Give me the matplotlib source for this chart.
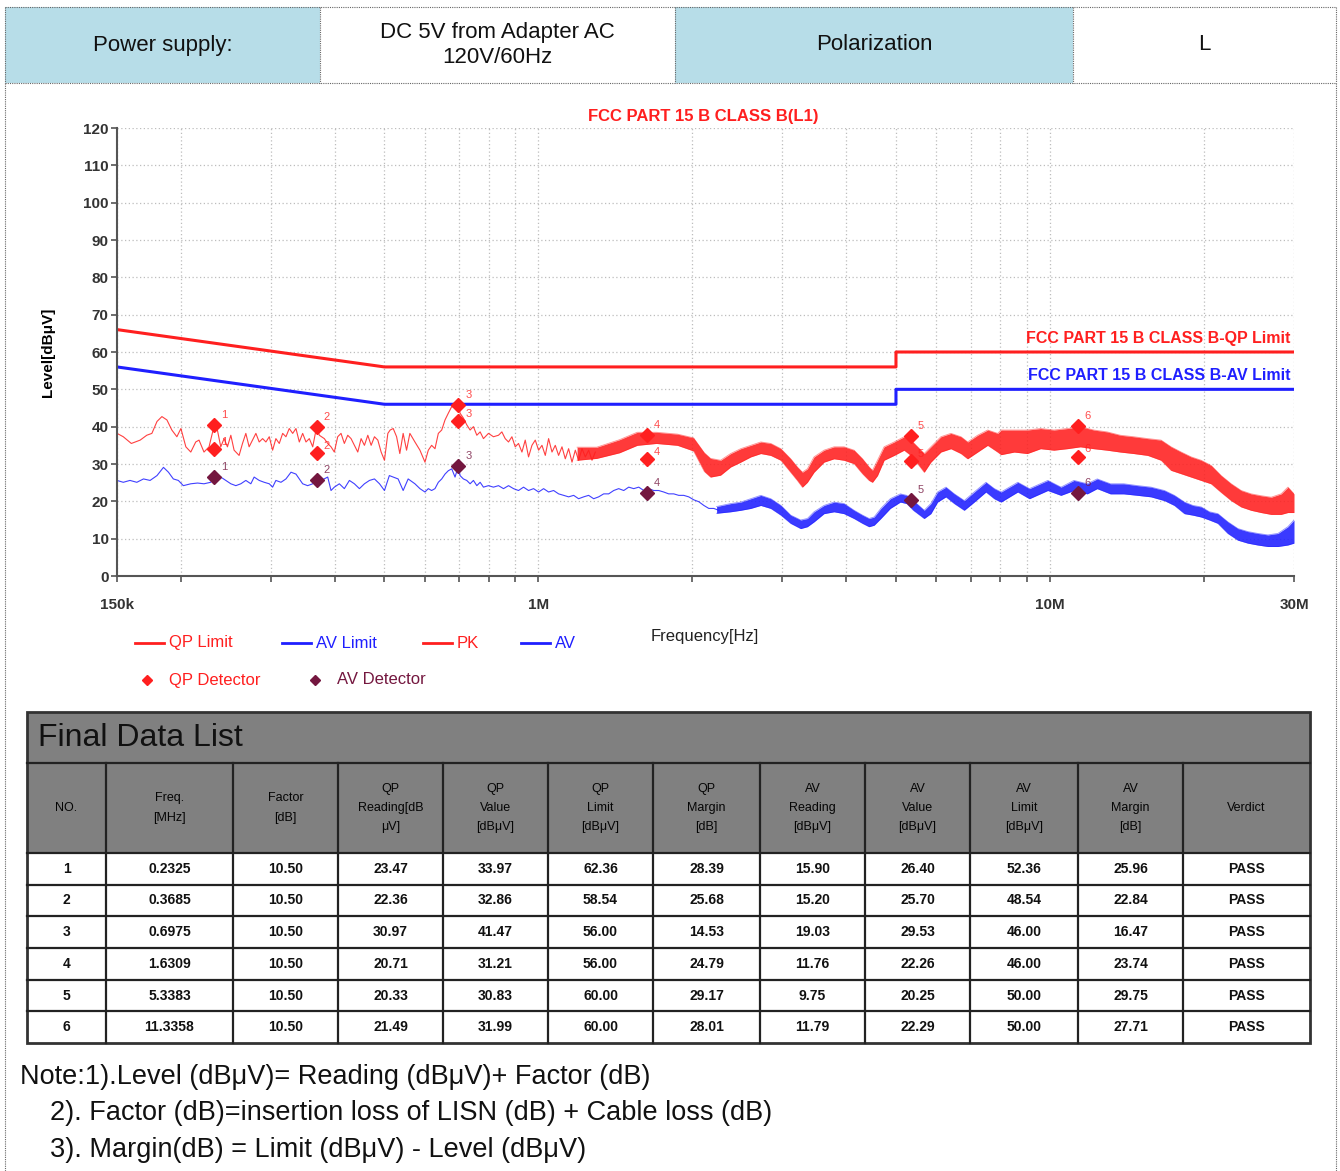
import matplotlib
matplotlib.use("Agg")
import matplotlib.pyplot as plt
from matplotlib.lines import Line2D
from matplotlib.patches import Rectangle
from matplotlib.ticker import FixedLocator, NullFormatter

plt.rcParams['font.family'] = ['Liberation Sans', 'DejaVu Sans']

W, H = 1340, 1171

# ---- header ----
header_cells = ["Power supply:", "DC 5V from Adapter AC\n120V/60Hz", "Polarization", "L"]

# ---- limits ----
limit_f = [0.15, 0.5, 5.0, 5.0, 30.0]
qp_limit = [66, 56, 56, 60, 60]
av_limit = [56, 46, 46, 50, 50]

# ---- PK trace (MHz, dBuV), thin part ----
pk_f = [0.150, 0.1543, 0.160, 0.1665, 0.1715, 0.1755, 0.1796, 0.1836, 0.1878, 0.192,
        0.1964, 0.200, 0.2045, 0.2091, 0.2138, 0.2170, 0.2219, 0.2270, 0.2325, 0.2357,
        0.2393, 0.2429, 0.2466, 0.2504, 0.2541, 0.2599, 0.2639, 0.2679, 0.2719, 0.2761,
        0.2803, 0.2845, 0.2889, 0.2932, 0.2977, 0.3022, 0.3067, 0.3114, 0.3162, 0.3209,
        0.3257, 0.3308, 0.3357, 0.3408, 0.3460, 0.3512, 0.3565, 0.3620, 0.3685, 0.3729,
        0.3814, 0.3873, 0.3931, 0.3990, 0.4051, 0.4112, 0.4174, 0.4238, 0.4302, 0.4367,
        0.4434, 0.4501, 0.4569, 0.4639, 0.4709, 0.4780, 0.4853, 0.4926, 0.5000, 0.5077,
        0.513, 0.5201, 0.5281, 0.5358, 0.5439, 0.5523, 0.5606, 0.5735, 0.5866, 0.6000,
        0.6091, 0.6183, 0.6277, 0.6372, 0.6470, 0.6567, 0.6665, 0.6769, 0.6870, 0.6975,
        0.7027, 0.7133, 0.7242, 0.7352, 0.7463, 0.7578, 0.7692, 0.7807, 0.7985, 0.8167,
        0.8354, 0.8482, 0.8610, 0.8740, 0.8874, 0.9008, 0.9142, 0.9284, 0.9423, 0.9565,
        0.9712, 0.9858, 1.0007, 1.0160, 1.0313, 1.0468, 1.0629, 1.0788, 1.0950, 1.1118,
        1.1285, 1.1455, 1.1631, 1.1806, 1.1982, 1.2168, 1.2351, 1.2535, 1.2727, 1.2919]
pk_db = [38.2, 37.3, 35.5, 36.4, 37.7, 38.2, 41.4, 42.7, 41.8, 39.1,
         37.3, 39.5, 34.6, 33.2, 35.9, 36.4, 33.2, 34.6, 40.5, 39.1,
         34.6, 36.8, 34.6, 37.7, 33.7, 32.3, 35.5, 38.2, 34.6, 36.4,
         38.2, 35.9, 36.8, 35.9, 37.3, 33.7, 36.8, 35.5, 38.2, 37.3,
         39.5, 38.2, 39.5, 35.9, 38.2, 35.9, 36.8, 34.6, 40.0, 37.7,
         36.8, 35.5, 34.6, 33.2, 37.3, 38.2, 35.5, 37.7, 36.8, 35.0,
         33.2, 36.8, 35.0, 37.7, 35.0, 37.3, 36.4, 33.2, 31.0, 38.2,
         39.1, 39.5, 37.3, 32.8, 38.2, 33.7, 38.2, 35.9, 33.7, 30.5,
         33.7, 35.0, 34.1, 38.2, 39.1, 41.8, 43.6, 45.4, 45.0, 45.8,
         43.6, 42.3, 40.5, 39.1, 40.0, 37.7, 38.6, 36.8, 38.2, 37.3,
         37.7, 38.6, 36.8, 35.9, 37.3, 34.6, 35.5, 33.2, 36.4, 31.9,
         35.0, 36.4, 33.7, 35.0, 32.3, 36.8, 33.2, 35.0, 32.3, 34.6,
         31.4, 34.1, 30.5, 33.7, 31.0, 34.1, 31.9, 33.7, 31.0, 33.2]

# ---- PK dense part: lower / upper edge of the noise band ----
pk_band_f = [1.19, 1.30, 1.44, 1.56, 1.70, 1.87, 2.01, 2.11, 2.17, 2.27,
             2.376, 2.486, 2.601, 2.721, 2.846, 2.978, 3.112, 3.207, 3.281, 3.356,
             3.458, 3.617, 3.784, 3.958, 4.140, 4.300, 4.430, 4.498, 4.601, 4.740,
             4.960, 5.187, 5.347, 5.511, 5.678, 5.851, 6.121, 6.403, 6.699, 6.904,
             7.222, 7.556, 7.903, 8.026, 8.516, 9.032, 9.589, 10.18, 10.81, 11.47,
             12.18, 12.93, 13.73, 14.58, 15.53, 16.49, 17.25, 18.05, 18.88, 19.75,
             20.66, 21.61, 22.61, 23.65, 24.73, 25.87, 27.07, 28.31, 29.19, 30.0]
pk_band_lo = [31.0, 31.5, 33.0, 35.0, 35.5, 35.0, 33.5, 28.0, 26.5, 27.0,
              29.2, 30.5, 31.9, 32.8, 32.3, 31.0, 27.8, 25.6, 23.8, 25.1,
              27.8, 30.5, 31.4, 31.0, 30.1, 27.4, 25.6, 25.1, 26.9, 31.0,
              32.3, 33.7, 32.3, 30.1, 27.8, 30.5, 33.2, 34.1, 32.8, 31.4,
              33.2, 35.0, 33.2, 32.5, 33.2, 32.8, 34.1, 33.7, 34.1, 34.6,
              34.1, 33.7, 33.2, 32.8, 32.3, 31.0, 28.3, 27.4, 26.5, 25.6,
              24.7, 22.4, 20.2, 18.5, 17.6, 17.0, 16.5, 16.5, 17.0, 17.0]
pk_band_hi = [34.5, 34.5, 36.5, 38.5, 38.5, 38.0, 37.0, 33.0, 31.5, 31.0,
              32.8, 34.1, 35.0, 35.9, 35.5, 34.1, 31.4, 29.2, 27.8, 28.7,
              31.9, 33.7, 34.6, 34.6, 33.7, 31.4, 29.2, 28.3, 31.0, 34.6,
              35.9, 37.3, 36.4, 34.6, 32.8, 34.6, 37.3, 38.2, 37.3, 35.9,
              37.7, 39.1, 38.2, 39.1, 39.1, 39.1, 39.5, 39.1, 39.5, 40.0,
              39.1, 38.6, 37.7, 37.3, 36.8, 36.4, 34.6, 33.2, 31.9, 31.0,
              29.6, 26.9, 24.7, 22.9, 22.0, 21.5, 21.1, 22.0, 23.8, 22.0]

# ---- AV trace, thin part ----
av_f = [0.150, 0.1543, 0.159, 0.164, 0.1690, 0.1741, 0.1796, 0.1849, 0.1891, 0.1933,
        0.1977, 0.2022, 0.2091, 0.2156, 0.2219, 0.2287, 0.2339, 0.2393, 0.2448, 0.2504,
        0.2561, 0.2619, 0.2679, 0.2740, 0.2781, 0.2845, 0.2910, 0.2977, 0.3022, 0.3067,
        0.3138, 0.3209, 0.3283, 0.3357, 0.3408, 0.3460, 0.3538, 0.3620, 0.3676, 0.3761,
        0.3873, 0.3931, 0.3990, 0.4081, 0.4174, 0.4270, 0.4367, 0.4467, 0.4569, 0.4674,
        0.4780, 0.4890, 0.5000, 0.5111, 0.5201, 0.5317, 0.5439, 0.5563, 0.5735, 0.5866,
        0.6000, 0.6091, 0.6183, 0.6277, 0.6372, 0.6470, 0.6567, 0.6665, 0.6769, 0.6870,
        0.6975, 0.7027, 0.7133, 0.7242, 0.7352, 0.7463, 0.7578, 0.7692, 0.7807, 0.7985,
        0.8167, 0.8354, 0.8545, 0.8740, 0.8939, 0.9142, 0.9351, 0.9565, 0.9784, 1.0007,
        1.0235, 1.0468, 1.0708, 1.0950, 1.1203, 1.1455, 1.1718, 1.1982, 1.2258, 1.2535,
        1.2822, 1.3114, 1.3414, 1.3719, 1.4034, 1.4351, 1.4682, 1.5014, 1.5358, 1.5707,
        1.6066, 1.6433, 1.6800, 1.7181, 1.7573, 1.7975, 1.8386, 1.8806, 1.9232, 1.9672,
        2.0126, 2.0580, 2.1055, 2.1530, 2.2017, 2.2519]
av_db = [25.6, 25.1, 25.6, 25.1, 26.0, 25.6, 26.9, 29.1, 27.8, 26.0,
         25.6, 24.2, 24.7, 24.9, 24.7, 25.1, 26.9, 26.5, 25.6, 24.7,
         24.2, 24.7, 25.6, 24.7, 26.5, 25.6, 25.1, 24.7, 23.8, 25.6,
         25.1, 26.0, 27.8, 27.3, 26.0, 24.7, 24.2, 24.7, 25.6, 25.6,
         26.5, 22.9, 23.8, 24.7, 23.4, 25.6, 24.7, 23.4, 24.7, 25.6,
         26.0, 24.7, 22.9, 26.9, 26.5, 26.0, 22.9, 26.0, 24.7, 23.4,
         22.5, 23.4, 22.9, 23.4, 25.1, 26.0, 27.3, 28.2, 28.7, 26.5,
         29.5, 26.9, 26.0, 25.6, 24.7, 25.6, 24.2, 25.1, 23.8, 24.2,
         23.8, 24.2, 23.4, 24.2, 23.4, 22.9, 23.8, 22.9, 23.4, 22.5,
         23.4, 22.5, 22.9, 22.0, 21.6, 21.2, 21.6, 20.7, 21.2, 21.6,
         20.7, 21.2, 22.0, 22.0, 22.9, 23.4, 22.9, 23.8, 23.4, 23.8,
         22.9, 23.4, 22.9, 22.9, 22.5, 22.0, 22.0, 21.6, 21.6, 21.2,
         20.4, 19.9, 18.9, 18.1, 18.1, 17.6]

# ---- AV dense part ----
av_band_f = [2.23, 2.376, 2.486, 2.601, 2.721, 2.846, 2.978, 3.112, 3.256, 3.356,
             3.458, 3.617, 3.784, 3.958, 4.140, 4.300, 4.430, 4.532, 4.671, 4.875,
             5.100, 5.248, 5.406, 5.678, 5.851, 6.030, 6.261, 6.501, 6.800, 7.112,
             7.497, 7.784, 8.026, 8.652, 9.119, 9.905, 10.51, 11.14, 11.83, 12.37,
             13.13, 13.94, 14.85, 15.76, 16.74, 17.51, 18.32, 19.03, 19.75, 20.50,
             21.29, 22.27, 23.30, 24.37, 25.48, 26.67, 27.91, 29.19, 30.0]
av_band_lo = [16.8, 17.2, 17.6, 18.1, 18.9, 18.1, 16.3, 14.1, 12.7, 13.2,
              14.5, 16.7, 17.2, 16.7, 15.4, 14.1, 13.2, 13.6, 15.4, 18.1,
              19.8, 19.4, 17.6, 15.4, 16.7, 19.8, 21.2, 19.4, 17.6, 19.8,
              22.5, 20.7, 19.8, 22.5, 20.7, 22.9, 21.6, 22.9, 22.0, 23.4,
              22.0, 22.0, 21.6, 21.2, 20.2, 18.9, 16.7, 16.3, 15.8, 15.0,
              14.1, 11.4, 9.6, 8.8, 8.3, 7.9, 7.9, 8.3, 8.8]
av_band_hi = [18.6, 19.4, 19.8, 20.7, 21.6, 20.7, 18.9, 16.3, 15.0, 15.4,
              17.2, 18.9, 19.8, 19.4, 17.6, 16.3, 15.4, 15.8, 18.1, 20.7,
              22.0, 21.6, 20.2, 17.6, 19.4, 22.5, 23.8, 22.0, 20.2, 22.5,
              25.1, 23.4, 22.5, 25.1, 23.4, 25.6, 23.8, 25.6, 24.7, 26.0,
              24.7, 24.7, 24.2, 23.8, 22.9, 21.6, 19.8, 18.9, 18.5, 17.2,
              16.7, 14.5, 12.7, 11.9, 11.4, 11.0, 11.4, 13.2, 15.0]

# ---- final data list ----
no = [1, 2, 3, 4, 5, 6]
freq = [0.2325, 0.3685, 0.6975, 1.6309, 5.3383, 11.3358]
factor = [10.50] * 6
qp_read = [23.47, 22.36, 30.97, 20.71, 20.33, 21.49]
qp_val = [33.97, 32.86, 41.47, 31.21, 30.83, 31.99]
qp_lim = [62.36, 58.54, 56.00, 56.00, 60.00, 60.00]
qp_margin = [28.39, 25.68, 14.53, 24.79, 29.17, 28.01]
av_read = [15.90, 15.20, 19.03, 11.76, 9.75, 11.79]
av_val = [26.40, 25.70, 29.53, 22.26, 20.25, 22.29]
av_lim = [52.36, 48.54, 46.00, 46.00, 50.00, 50.00]
av_margin = [25.96, 22.84, 16.47, 23.74, 29.75, 27.71]
verdict = ["PASS"] * 6
# peak marker levels at the same frequencies
pk_mark = [40.5, 40.0, 45.8, 37.8, 37.5, 40.2]

col_heads = ["NO.", "Freq.\n[MHz]", "Factor\n[dB]", "QP\nReading[dB\nμV]", "QP\nValue\n[dBμV]",
             "QP\nLimit\n[dBμV]", "QP\nMargin\n[dB]", "AV\nReading\n[dBμV]", "AV\nValue\n[dBμV]",
             "AV\nLimit\n[dBμV]", "AV\nMargin\n[dB]", "Verdict"]

notes = ["Note:1).Level (dBμV)= Reading (dBμV)+ Factor (dB)",
         "2). Factor (dB)=insertion loss of LISN (dB) + Cable loss (dB)",
         "3). Margin(dB) = Limit (dBμV) - Level (dBμV)"]

RED = '#ff1f1f'
BLUE = '#1f1fff'
MAROON = '#74173f'
HEAD_BLUE = '#b7dde8'

fig = plt.figure(figsize=(W / 100, H / 100), dpi=100)


def fx(px):
    return px / W


def fy(py):
    return 1 - py / H


def fline(x0, y0, x1, y1, **kw):
    fig.add_artist(Line2D([fx(x0), fx(x1)], [fy(y0), fy(y1)], transform=fig.transFigure, **kw))


def frect(x0, y0, x1, y1, color):
    fig.add_artist(Rectangle((fx(x0), fy(y1)), fx(x1) - fx(x0), fy(y0) - fy(y1),
                             transform=fig.transFigure, facecolor=color, edgecolor='none', zorder=0))


dot = dict(color='#666666', lw=0.8, linestyle=(0, (1, 1)))

# header row
hx = [5, 320, 675, 1073, 1336]
for i, txt in enumerate(header_cells):
    frect(hx[i], 7, hx[i + 1], 83, HEAD_BLUE if i % 2 == 0 else 'white')
    fig.text(fx((hx[i] + hx[i + 1]) / 2), fy(45), txt, ha='center', va='center',
             fontsize=16, color='#111111', linespacing=1.2)
fline(5, 7, 1336, 7, **dot)
fline(5, 83, 1336, 83, **dot)
for x in hx:
    fline(x, 7, x, 83, **dot)
fline(5, 83, 5, 1171, **dot)
fline(1336, 83, 1336, 1171, **dot)

# ---- chart ----
ax = fig.add_axes([fx(117), fy(576), fx(1294) - fx(117), fy(128) - fy(576)])
ax.set_xscale('log')
ax.set_xlim(0.15, 30)
ax.set_ylim(0, 120)

ax.plot(pk_f, pk_db, color=RED, lw=0.8, alpha=0.85)
ax.fill_between(pk_band_f, pk_band_lo, pk_band_hi, color=RED, lw=0, alpha=0.88)
ax.plot(pk_band_f, pk_band_hi, color=RED, lw=0.6, alpha=0.5)
ax.plot(pk_band_f, pk_band_lo, color=RED, lw=0.6, alpha=0.5)
ax.plot(av_f, av_db, color=BLUE, lw=0.8, alpha=0.85)
ax.fill_between(av_band_f, av_band_lo, av_band_hi, color=BLUE, lw=0, alpha=0.88)
ax.plot(av_band_f, av_band_hi, color=BLUE, lw=0.6, alpha=0.5)
ax.plot(av_band_f, av_band_lo, color=BLUE, lw=0.6, alpha=0.5)
ax.plot(limit_f, qp_limit, color=RED, lw=2.2)
ax.plot(limit_f, av_limit, color=BLUE, lw=2.2)

ax.plot(freq, pk_mark, 'D', color=RED, ms=7.5)
ax.plot(freq, qp_val, 'D', color=RED, ms=7.5)
ax.plot(freq, av_val, 'D', color=MAROON, ms=7.5)
for i in range(len(no)):
    ax.annotate(str(no[i]), (freq[i], pk_mark[i]), xytext=(5, 5), textcoords='offset points',
                fontsize=8, color=RED, alpha=0.8)
    ax.annotate(str(no[i]), (freq[i], qp_val[i]), xytext=(5, 3), textcoords='offset points',
                fontsize=8, color=RED, alpha=0.8)
    ax.annotate(str(no[i]), (freq[i], av_val[i]), xytext=(5, 5), textcoords='offset points',
                fontsize=8, color=MAROON, alpha=0.8)

ax.text(29.5, 63.6, "FCC PART 15 B CLASS B-QP Limit", color=RED, ha='right', va='center',
        fontsize=11.5, fontweight='bold')
ax.text(29.5, 53.8, "FCC PART 15 B CLASS B-AV Limit", color=BLUE, ha='right', va='center',
        fontsize=11.5, fontweight='bold')
ax.text(2.1, 123, "FCC PART 15 B CLASS B(L1)", color=RED, ha='center', va='center',
        fontsize=12, fontweight='bold')

ax.xaxis.set_major_locator(FixedLocator([0.15, 1, 10, 30]))
ax.set_xticklabels(["150k", "1M", "10M", "30M"])
ax.xaxis.set_minor_locator(FixedLocator([0.2, 0.3, 0.4, 0.5, 0.6, 0.7, 0.8, 0.9,
                                         2, 3, 4, 5, 6, 7, 8, 9, 20]))
ax.xaxis.set_minor_formatter(NullFormatter())
ax.set_yticks(range(0, 121, 10))
ax.grid(True, which='both', color='#bdbdbd', linestyle=(0, (1, 2)), lw=0.9)
ax.set_axisbelow(True)
for s in ['top', 'right']:
    ax.spines[s].set_visible(False)
for s in ['left', 'bottom']:
    ax.spines[s].set_color('#555555')
    ax.spines[s].set_linewidth(1.5)
ax.tick_params(which='both', length=4, color='#555555', width=1.2)
ax.tick_params(axis='y', labelsize=11, pad=2)
ax.tick_params(axis='x', which='major', labelsize=11, pad=12)
for lab in ax.get_xticklabels() + ax.get_yticklabels():
    lab.set_fontweight('bold')
    lab.set_color('#333333')
ax.set_ylabel("Level[dBμV]", fontsize=11, fontweight='bold', labelpad=20)

fig.text(fx(705), fy(637), "Frequency[Hz]", ha='center', va='center', fontsize=12, color='#222222')

# legend
leg_items = [(135, "QP Limit", RED), (282, "AV Limit", BLUE), (423, "PK", RED), (521, "AV", BLUE)]
for x0, lab, c in leg_items:
    fline(x0, 643, x0 + 29, 643, color=c, lw=2)
    fig.text(fx(x0 + 34), fy(643), lab, color=c, ha='left', va='center', fontsize=12)
for x0, lab, c in [(147, "QP Detector", RED), (315, "AV Detector", MAROON)]:
    fig.add_artist(Line2D([fx(x0)], [fy(680)], marker='D', ms=5, color=c, transform=fig.transFigure))
    fig.text(fx(x0 + 22), fy(680), lab, color=c, ha='left', va='center', fontsize=12)

# ---- table ----
cx = [27, 106, 233, 338, 443, 548, 653, 760, 865, 970, 1078, 1183, 1310]
ty0, ty1, hy1 = 712, 763, 853
rh = (1043 - hy1) / 6
frect(cx[0], ty0, cx[-1], hy1, '#808080')
frect(cx[0], hy1, cx[-1], 1043, 'white')
fig.text(fx(38), fy((ty0 + ty1) / 2 + 1), "Final Data List", ha='left', va='center',
         fontsize=23, color='#111111')
for j, h in enumerate(col_heads):
    fig.text(fx((cx[j] + cx[j + 1]) / 2), fy((ty1 + hy1) / 2), h, ha='center', va='center',
             fontsize=9, color='#050505', linespacing=1.8)

rows = []
for i in range(len(no)):
    rows.append([str(no[i]), f"{freq[i]:.4f}", f"{factor[i]:.2f}", f"{qp_read[i]:.2f}",
                 f"{qp_val[i]:.2f}", f"{qp_lim[i]:.2f}", f"{qp_margin[i]:.2f}",
                 f"{av_read[i]:.2f}", f"{av_val[i]:.2f}", f"{av_lim[i]:.2f}",
                 f"{av_margin[i]:.2f}", verdict[i]])
for i, r in enumerate(rows):
    yc = hy1 + rh * (i + 0.5)
    for j, v in enumerate(r):
        fig.text(fx((cx[j] + cx[j + 1]) / 2), fy(yc), v, ha='center', va='center',
                 fontsize=10, fontweight='bold', color='#111111')

bk = dict(color='#222222', lw=1.6)
for x in cx[1:-1]:
    fline(x, ty1, x, 1043, **bk)
for i in range(1, 6):
    fline(cx[0], hy1 + rh * i, cx[-1], hy1 + rh * i, **bk)
fline(cx[0], ty1, cx[-1], ty1, **bk)
fline(cx[0], hy1, cx[-1], hy1, **bk)
fig.add_artist(Rectangle((fx(cx[0]), fy(1043)), fx(cx[-1]) - fx(cx[0]), fy(ty0) - fy(1043),
                         transform=fig.transFigure, fill=False, edgecolor='#333333', lw=2))

# notes
fig.text(fx(20), fy(1077), notes[0], ha='left', va='center', fontsize=19.5, color='#111111')
fig.text(fx(50), fy(1113), notes[1], ha='left', va='center', fontsize=19.5, color='#111111')
fig.text(fx(50), fy(1150), notes[2], ha='left', va='center', fontsize=19.5, color='#111111')

fig.savefig("out.png", dpi=100)
